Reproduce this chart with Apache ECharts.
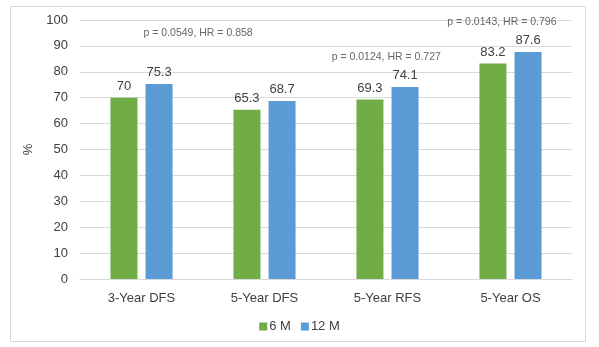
<!DOCTYPE html>
<html>
<head>
<meta charset="utf-8">
<script src="https://cdn.jsdelivr.net/npm/echarts@6/dist/echarts.min.js"></script>
<style>html,body{margin:0;padding:0;background:#fff}#c{width:599px;height:347px}</style>
</head>
<body>
<div id="c"></div>
<script>
var categories = ['3-Year DFS', '5-Year DFS', '5-Year RFS', '5-Year OS'];
var values6M = [70, 65.3, 69.3, 83.2];
var values12M = [75.3, 68.7, 74.1, 87.6];
var yTicks = [0, 10, 20, 30, 40, 50, 60, 70, 80, 90, 100];
var annotText = ['p = 0.0549, HR = 0.858', 'p = 0.0124, HR = 0.727', 'p = 0.0143, HR = 0.796'];
var annotX = [0.46, 1.99, 2.93];
var annotY = [95, 85.7, 99.2];

var font = 'Liberation Sans, Arial, sans-serif';
var txt = '#404040';
var chart = echarts.init(document.getElementById('c'), null, {renderer: 'canvas'});
chart.setOption({
  animation: false,
  backgroundColor: '#fff',
  textStyle: {fontFamily: font},
  graphic: [{
    type: 'rect', shape: {x: 10.5, y: 6.5, width: 575, height: 335},
    style: {fill: 'none', stroke: '#d9d9d9', lineWidth: 1}, silent: true
  }],
  grid: {left: 80, right: 27, top: 20, bottom: 68, containLabel: false},
  legend: {
    data: ['6 M', '12 M'], top: 315, left: 'center', icon: 'rect',
    itemWidth: 8, itemHeight: 8, itemGap: 10,
    textStyle: {fontFamily: font, fontSize: 13, color: txt, padding: [0, 0, 0, -3]}
  },
  xAxis: [{
    type: 'category', data: categories,
    axisLine: {lineStyle: {color: '#d9d9d9'}}, axisTick: {show: false},
    axisLabel: {fontFamily: font, fontSize: 13, color: txt, margin: 13}
  }, {
    type: 'value', min: -0.5, max: 3.5, show: false
  }],
  yAxis: {
    type: 'value', min: yTicks[0], max: yTicks[yTicks.length - 1], interval: yTicks[1] - yTicks[0],
    name: '%', nameLocation: 'middle', nameGap: 40,
    nameTextStyle: {fontFamily: font, fontSize: 13, color: txt},
    axisLine: {show: false}, axisTick: {show: false},
    splitLine: {lineStyle: {color: '#d9d9d9'}},
    axisLabel: {fontFamily: font, fontSize: 13, color: txt, margin: 12}
  },
  series: [{
    name: '6 M', type: 'bar', data: values6M, barWidth: 27, barGap: '30%',
    itemStyle: {color: '#70AD47'},
    label: {show: true, position: 'top', distance: 5, fontFamily: font, fontSize: 13, color: txt}
  }, {
    name: '12 M', type: 'bar', data: values12M, barWidth: 27, barGap: '30%',
    itemStyle: {color: '#5B9BD5'},
    label: {show: true, position: 'top', distance: 5, fontFamily: font, fontSize: 13, color: txt}
  }, {
    name: 'annot', type: 'scatter', xAxisIndex: 1, symbolSize: 1,
    itemStyle: {color: 'rgba(0,0,0,0)'}, silent: true,
    data: annotText.map(function (t, i) { return {value: [annotX[i], annotY[i]], name: t}; }),
    label: {show: true, position: 'inside', formatter: function (p) { return p.name; },
      fontFamily: font, fontSize: 10.5, color: txt}
  }]
});
</script>
</body>
</html>
